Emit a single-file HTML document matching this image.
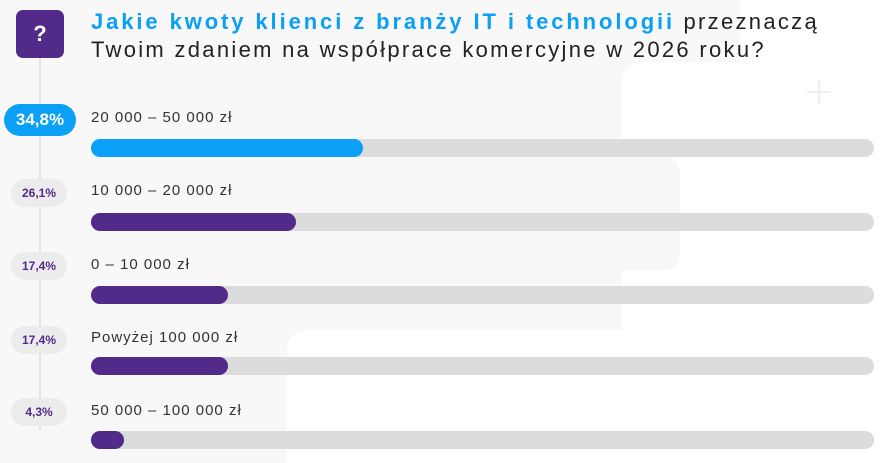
<!DOCTYPE html>
<html style="overflow:hidden"><head><meta charset="utf-8"><style>
html,body{margin:0;width:894px;height:463px;overflow:hidden}
body{background:#f8f8f8;position:relative;font-family:"Liberation Sans",sans-serif}
.a{position:absolute}
.lbl{position:absolute;left:91px;font-size:15px;color:#333;letter-spacing:1px}
.track{position:absolute;left:91px;width:783px;height:18px;border-radius:9px;background:#dcdcdc}
.fill{position:absolute;left:0;top:0;height:18px;border-radius:9px;background:#522a8a}
.b{position:absolute;left:11px;width:56px;height:28px;border-radius:14px;background:#ececec;color:#522a8a;font-weight:bold;font-size:12px;text-align:center;line-height:28px}
</style></head><body>
<div class="a" style="left:740px;top:0;width:154px;height:80px;background:#fff"></div>
<div class="a" style="left:622px;top:62px;width:272px;height:401px;background:#fff;border-radius:20px 0 0 0"></div>
<div class="a" style="left:562px;top:155px;width:118px;height:116px;background:#f8f8f8;border-radius:18px"></div>
<div class="a" style="left:287px;top:330px;width:607px;height:133px;background:#fff;border-radius:20px 0 0 0"></div>
<div class="a" style="left:818px;top:80px;width:2px;height:24px;background:#eee"></div>
<div class="a" style="left:807px;top:91px;width:24px;height:2px;background:#eee"></div>
<div class="a" style="left:39px;top:58px;width:2px;height:372px;background:#e4e4e4"></div>
<div class="a" style="left:16px;top:10px;width:48px;height:48px;border-radius:7px;background:#522a8a;color:#fff;font-weight:bold;font-size:22px;text-align:center;line-height:48px">?</div>
<div class="a" style="left:91px;top:8px;font-size:22px;line-height:28px;color:#222;white-space:nowrap;letter-spacing:2.3px"><b style="color:#0aa0f5;letter-spacing:2.9px">Jakie kwoty klienci z branży IT i technologii</b> przeznaczą<br>Twoim zdaniem na współprace komercyjne w 2026 roku?</div>

<div class="a" style="left:4px;top:104px;width:72px;height:32px;border-radius:16px;background:#0aa0f5;color:#fff;font-weight:bold;font-size:17px;text-align:center;line-height:32px">34,8%</div>
<div class="lbl" style="top:109px">20 000 – 50 000 zł</div>
<div class="track" style="top:139px"><div class="fill" style="width:272px;background:#0aa0f5"></div></div>

<div class="b" style="top:179px">26,1%</div>
<div class="lbl" style="top:182px">10 000 – 20 000 zł</div>
<div class="track" style="top:213px"><div class="fill" style="width:205px"></div></div>

<div class="b" style="top:252px">17,4%</div>
<div class="lbl" style="top:256px">0 – 10 000 zł</div>
<div class="track" style="top:286px"><div class="fill" style="width:137px"></div></div>

<div class="b" style="top:326px">17,4%</div>
<div class="lbl" style="top:329px">Powyżej 100 000 zł</div>
<div class="track" style="top:357px"><div class="fill" style="width:137px"></div></div>

<div class="b" style="top:398px">4,3%</div>
<div class="lbl" style="top:402px">50 000 – 100 000 zł</div>
<div class="track" style="top:431px"><div class="fill" style="width:33px"></div></div>
</body></html>
